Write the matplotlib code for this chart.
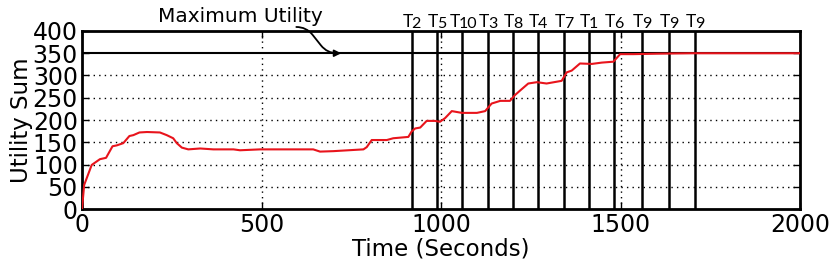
import matplotlib
matplotlib.use("Agg")
import matplotlib.pyplot as plt

# Utility curve (time in seconds, utility sum)
time_s = [0, 6, 27, 50, 67, 85, 97, 115, 132, 143, 160, 181, 217, 236, 254, 264, 278, 296,
          329, 366, 422, 440, 496, 644, 663, 700, 784, 793, 807, 849, 867, 909, 918, 928, 942,
          960, 983, 997, 1011, 1030, 1058, 1100, 1123, 1141, 1165, 1192, 1206, 1220, 1243,
          1267, 1294, 1336, 1350, 1364, 1387, 1420, 1448, 1480, 1499, 1536, 1600, 1700, 1800, 2000]
utility = [0, 54, 99, 112, 115, 141, 143, 148, 164, 166, 172, 173, 172, 166, 159, 148, 138, 134,
           136, 134, 134, 132, 134, 134, 129, 130, 134, 139, 155, 155, 159, 162, 174, 181, 183,
           198, 198, 196, 204, 220, 216, 216, 220, 237, 243, 243, 256, 266, 282,
           285, 282, 288, 307, 311, 327, 326, 329, 331, 348, 348, 349, 350, 350, 350]

max_utility = 350
event_times = [919, 989, 1059, 1131, 1201, 1270, 1343, 1412, 1482, 1560, 1635, 1708]
event_labels = ["T2", "T5", "T10", "T3", "T8", "T4", "T7", "T1", "T6", "T9", "T9", "T9"]

fig = plt.figure(figsize=(8.3, 2.64), dpi=100)
ax = fig.add_axes([0.0988, 0.2083, 0.8651, 0.6743])

ax.set_xlim(0, 2000)
ax.set_ylim(0, 400)
ax.set_xticks([0, 500, 1000, 1500, 2000])
ax.set_yticks(range(0, 401, 50))

for y in range(50, 301, 50):
    ax.axhline(y, color="black", linestyle=(0, (1, 3)), lw=1, zorder=1)
for x in [500, 1000, 1500]:
    ax.axvline(x, color="black", linestyle=(0, (1, 3)), lw=1, zorder=1)

ax.axhline(max_utility, color="black", lw=1.5, zorder=2)
T_W, D_W = 8.0, 7.5  # approx pixel widths of "T" and one digit
for t, lab in zip(event_times, event_labels):
    ax.axvline(t, color="black", lw=1.8, zorder=2)
    digits = lab[1:]
    split = (T_W - D_W * len(digits)) / 2 + 1
    ax.annotate("T", xy=(t, 400), xytext=(split, 4), textcoords="offset pixels",
                ha="right", va="baseline", fontsize=12.5, family="Lato",
                annotation_clip=False)
    ax.annotate(digits, xy=(t, 400), xytext=(split - 1.5, 3), textcoords="offset pixels",
                ha="left", va="baseline", fontsize=11.5, family="Lato",
                annotation_clip=False)

ax.plot(time_s, utility, color="#e8141c", lw=1.5, zorder=3)

ax.text(440, 412, "Maximum Utility", ha="center", va="bottom", fontsize=14.5, clip_on=False)
ax.annotate("", xy=(722, 350), xytext=(597, 409), textcoords="data",
            annotation_clip=False,
            arrowprops=dict(arrowstyle="-|>", color="black", lw=1.3,
                            shrinkA=0, shrinkB=0, mutation_scale=10,
                            connectionstyle="arc,angleA=0,angleB=180,armA=10,armB=14,rad=10"))

for s in ax.spines.values():
    s.set_linewidth(2)
ax.tick_params(direction="in", length=5, width=1, labelsize=17, top=True, right=True, pad=3)
ax.set_xlabel("Time (Seconds)", fontsize=16.5, labelpad=0)
ax.set_ylabel("Utility Sum", fontsize=16.5, labelpad=0)

fig.savefig("out.png", dpi=100)
